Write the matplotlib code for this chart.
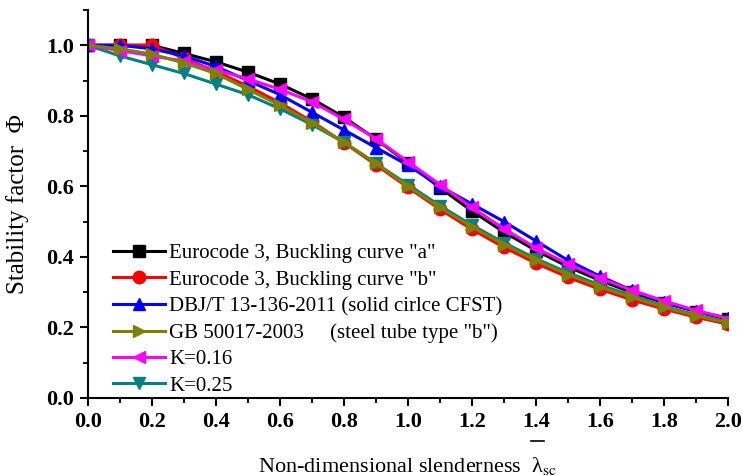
import matplotlib
matplotlib.use("Agg")
import matplotlib.pyplot as plt
from matplotlib.lines import Line2D
from matplotlib.ticker import MultipleLocator

plt.rcParams['font.family'] = ['Liberation Serif', 'DejaVu Serif']
plt.rcParams['mathtext.fontset'] = 'stix'

# slenderness values
lam = [0.0, 0.1, 0.2, 0.3, 0.4, 0.5, 0.6, 0.7, 0.8, 0.9, 1.0,
       1.1, 1.2, 1.3, 1.4, 1.5, 1.6, 1.7, 1.8, 1.9, 2.0]

# stability factors
euro_a = [1.0, 1.0, 1.0, 0.977, 0.953, 0.924, 0.890, 0.848, 0.796, 0.734, 0.666,
          0.596, 0.530, 0.470, 0.418, 0.372, 0.333, 0.299, 0.270, 0.245, 0.223]
euro_b = [1.0, 1.0, 1.0, 0.964, 0.926, 0.884, 0.837, 0.784, 0.724, 0.661, 0.597,
          0.535, 0.478, 0.427, 0.382, 0.342, 0.308, 0.278, 0.252, 0.229, 0.209]
dbj = [1.0, 1.0, 0.99, 0.97, 0.94, 0.90, 0.86, 0.81, 0.76, 0.71, 0.66,
       0.60, 0.55, 0.50, 0.445, 0.39, 0.345, 0.305, 0.272, 0.246, 0.226]
gb = [1.0, 0.99, 0.975, 0.95, 0.92, 0.875, 0.83, 0.78, 0.725, 0.665, 0.60,
      0.54, 0.485, 0.435, 0.39, 0.35, 0.315, 0.285, 0.257, 0.233, 0.213]
k016 = [1.0, 0.985, 0.97, 0.955, 0.93, 0.905, 0.875, 0.84, 0.79, 0.735, 0.67,
        0.605, 0.54, 0.48, 0.425, 0.38, 0.34, 0.305, 0.275, 0.248, 0.225]
k025 = [1.0, 0.97, 0.945, 0.92, 0.89, 0.86, 0.82, 0.775, 0.725, 0.665, 0.605,
        0.545, 0.49, 0.44, 0.395, 0.355, 0.32, 0.29, 0.26, 0.235, 0.215]

labels = ['Eurocode 3, Buckling curve "a"',
          'Eurocode 3, Buckling curve "b"',
          'DBJ/T 13-136-2011 (solid cirlce CFST)',
          'GB 50017-2003     (steel tube type "b")',
          'K=0.16',
          'K=0.25']

fig = plt.figure(figsize=(7.43, 4.76), dpi=100)
ax = fig.add_axes([0.118, 0.164, 0.862, 0.815])

lw, ms = 2.2, 9
h1, = ax.plot(lam, euro_a, '-s', color='black', lw=lw, ms=ms)
h2, = ax.plot(lam, euro_b, '-o', color='red', lw=lw, ms=ms)
h3, = ax.plot(lam, dbj, '-^', color='blue', lw=lw, ms=ms)
h6, = ax.plot(lam, k025, '-v', color='#008080', lw=lw, ms=ms)
h5, = ax.plot(lam, k016, '-<', color='magenta', lw=lw, ms=ms)
h4, = ax.plot(lam, gb, '->', color='#808000', lw=lw, ms=ms)

ax.legend([h1, h2, h3, h4, h5, h6], labels, loc='lower left',
          bbox_to_anchor=(0.033, -0.005), frameon=False, fontsize=15,
          handlelength=2.5, handletextpad=0.2, labelspacing=0.33,
          borderaxespad=0.0, borderpad=0.2)

ax.set_xlim(0, 2.0)
ax.set_ylim(0, 1.1)
ax.xaxis.set_major_locator(MultipleLocator(0.2))
ax.xaxis.set_minor_locator(MultipleLocator(0.1))
ax.set_yticks([0.0, 0.2, 0.4, 0.6, 0.8, 1.0])
ax.yaxis.set_minor_locator(MultipleLocator(0.1))
ax.xaxis.set_major_formatter(plt.FormatStrFormatter('%.1f'))
ax.yaxis.set_major_formatter(plt.FormatStrFormatter('%.1f'))

for s in ['top', 'right']:
    ax.spines[s].set_visible(False)
for s in ['left', 'bottom']:
    ax.spines[s].set_linewidth(1.5)
ax.tick_params(which='major', direction='out', length=6, width=1.5,
               labelsize=16, pad=4)
ax.tick_params(which='minor', direction='out', length=3.5, width=1.3)
for t in ax.get_xticklabels() + ax.get_yticklabels():
    t.set_fontweight('bold')

ax.set_ylabel('Stability factor  Φ', fontsize=18, labelpad=12)
ax.set_xlabel('Non-dimensional slenderness  λ$_{\\mathrm{sc}}$', fontsize=16,
              labelpad=17)
# the floating overbar of lambda
fig.add_artist(Line2D([531 / 743, 544 / 743], [1 - 441 / 476, 1 - 441 / 476],
                      color='black', lw=1.2))

fig.savefig('out.png', dpi=100)
